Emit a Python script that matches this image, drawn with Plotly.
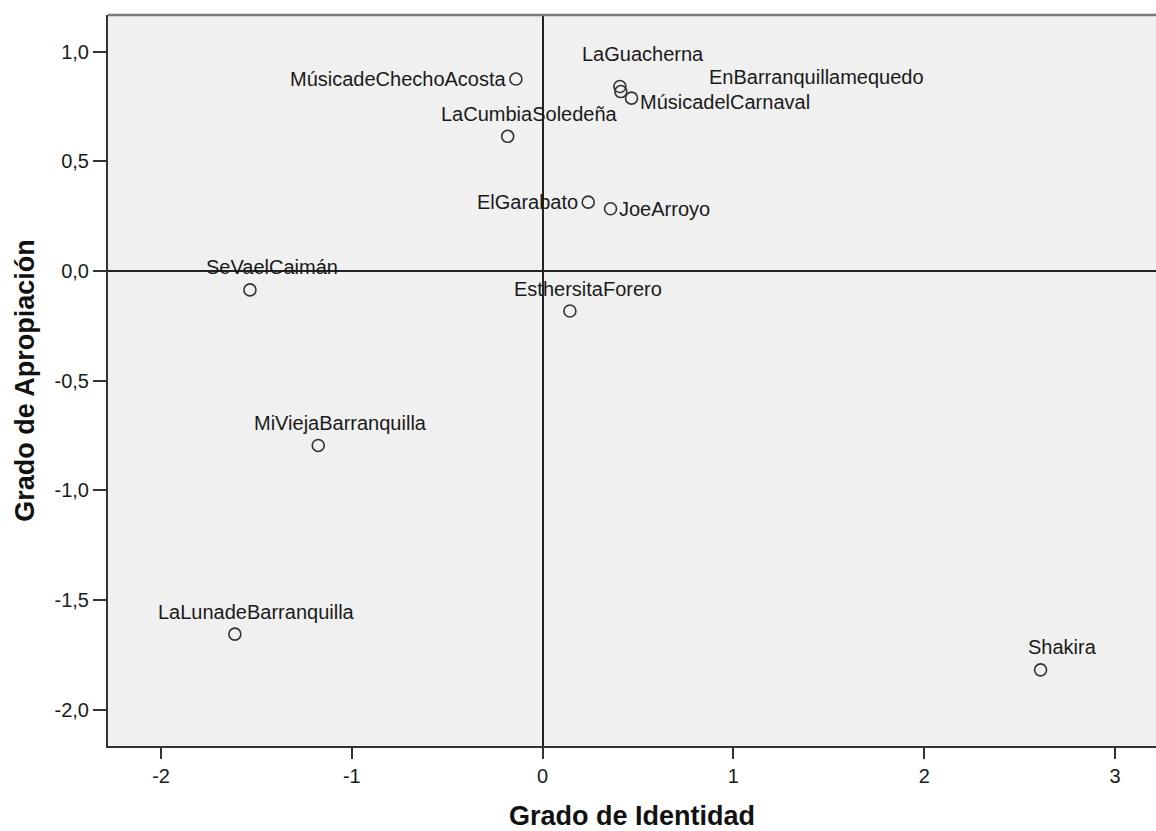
import plotly.graph_objects as go

# canciones / referentes musicales
nombres = [
    "MúsicadeChechoAcosta", "LaGuacherna", "EnBarranquillamequedo", "MúsicadelCarnaval",
    "LaCumbiaSoledeña", "ElGarabato", "JoeArroyo", "SeVaelCaimán", "EsthersitaForero",
    "MiViejaBarranquilla", "LaLunadeBarranquilla", "Shakira",
]
identidad = [-0.14, 0.405, 0.41, 0.466, -0.183, 0.239, 0.356, -1.534, 0.143, -1.176, -1.613, 2.61]
apropiacion = [0.875, 0.841, 0.818, 0.788, 0.614, 0.314, 0.284, -0.086, -0.182, -0.795, -1.655, -1.818]

x_ticks = [-2, -1, 0, 1, 2, 3]
x_ticktext = ["-2", "-1", "0", "1", "2", "3"]
y_ticks = [-2.0, -1.5, -1.0, -0.5, 0.0, 0.5, 1.0]
y_ticktext = ["-2,0", "-1,5", "-1,0", "-0,5", "0,0", "0,5", "1,0"]

# posicion de cada etiqueta respecto a su punto (anchor, dx, dy en px)
label_pos = {
    "MúsicadeChechoAcosta": ("right", -7, 0),
    "LaGuacherna": ("center", 23, 33),
    "EnBarranquillamequedo": ("left", 86, 15),
    "MúsicadelCarnaval": ("left", 6, -4),
    "ElGarabato": ("right", -8, 0),
    "JoeArroyo": ("left", 6, 0),
    "EsthersitaForero": ("center", 18, 22),
}

FONT = "Liberation Sans, Arial, sans-serif"

fig = go.Figure()
fig.add_trace(go.Scatter(
    x=identidad, y=apropiacion, mode="markers",
    marker=dict(symbol="circle-open", size=12, color="#333333", line=dict(width=1.6, color="#333333")),
    hoverinfo="text", text=nombres, showlegend=False,
))

for nom, xv, yv in zip(nombres, identidad, apropiacion):
    anchor, dx, dy = label_pos.get(nom, ("center", 22, 22.5))
    fig.add_annotation(
        x=xv, y=yv, text=nom, showarrow=False,
        xanchor=anchor, yanchor="middle", xshift=dx, yshift=dy,
        font=dict(family=FONT, size=20, color="#1a1a1a"),
    )

# borde superior del marco, mas claro que los ejes
fig.add_shape(type="line", xref="paper", yref="paper", x0=0, x1=1, y0=1, y1=1,
              line=dict(color="#7a7a7a", width=2.5))

fig.update_layout(
    width=1156, height=831,
    margin=dict(l=108, r=0, t=15, b=83),
    paper_bgcolor="white", plot_bgcolor="#f0f0f0",
    font=dict(family=FONT, size=20, color="#1a1a1a"),
)
fig.update_xaxes(
    range=[-2.278, 3.215], tickvals=x_ticks, ticktext=x_ticktext,
    showgrid=False, zeroline=True, zerolinecolor="#222222", zerolinewidth=2,
    showline=True, linecolor="#333333", linewidth=2, mirror=False,
    ticks="outside", ticklen=11, tickwidth=2, tickcolor="#333333",
    title=dict(text="<b>Grado de Identidad</b>", font=dict(family=FONT, size=27, color="#111111"), standoff=25),
)
fig.update_yaxes(
    range=[-2.165, 1.167], tickvals=y_ticks, ticktext=y_ticktext,
    showgrid=False, zeroline=True, zerolinecolor="#222222", zerolinewidth=2,
    showline=True, linecolor="#333333", linewidth=2, mirror=False,
    ticks="outside", ticklen=13, tickwidth=2, tickcolor="#333333",
    title=dict(text="<b>Grado de Apropiación</b>", font=dict(family=FONT, size=27, color="#111111"), standoff=12),
)

fig.write_html("out.html", config={"displayModeBar": False},
               post_script="document.body.style.margin='0';document.body.style.overflow='hidden';")
